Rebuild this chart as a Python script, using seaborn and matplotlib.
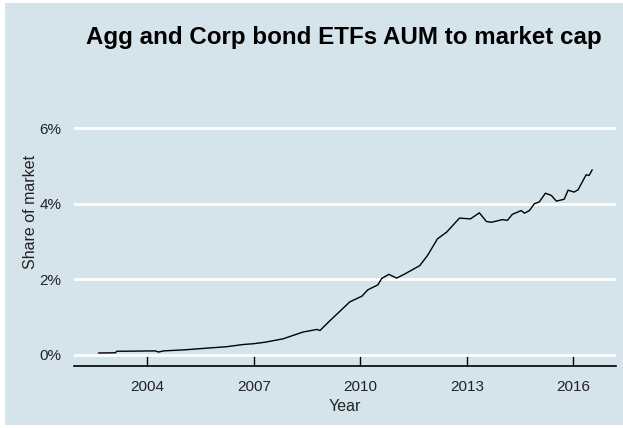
import numpy as np
import pandas as pd
import seaborn as sns
import matplotlib.pyplot as plt
from matplotlib.patches import Rectangle
from matplotlib.ticker import FuncFormatter

# valores leidos a ojo del grafico original
years = [2002.62, 2003.10, 2003.13, 2004.22, 2004.31, 2004.45, 2005.07, 2005.63,
         2006.22, 2006.70, 2006.98, 2007.31, 2007.82, 2008.38, 2008.78, 2008.86,
         2009.14, 2009.42, 2009.70, 2010.04, 2010.21, 2010.49, 2010.60, 2010.80,
         2011.02, 2011.25, 2011.67, 2011.89, 2012.17, 2012.43, 2012.79, 2013.10,
         2013.35, 2013.55, 2013.69, 2014.00, 2014.14, 2014.28, 2014.53, 2014.62,
         2014.76, 2014.90, 2015.04, 2015.21, 2015.38, 2015.52, 2015.74, 2015.85,
         2016.02, 2016.13, 2016.36, 2016.44, 2016.53]
share = [0.045, 0.05, 0.09, 0.10, 0.07, 0.10, 0.13, 0.17,
         0.21, 0.27, 0.29, 0.33, 0.42, 0.60, 0.67, 0.64,
         0.90, 1.15, 1.40, 1.55, 1.72, 1.85, 2.02, 2.13,
         2.03, 2.14, 2.36, 2.63, 3.07, 3.25, 3.62, 3.60,
         3.76, 3.53, 3.51, 3.58, 3.56, 3.72, 3.82, 3.75,
         3.82, 4.00, 4.05, 4.28, 4.22, 4.07, 4.12, 4.36,
         4.31, 4.37, 4.77, 4.75, 4.90]
x_ticks = [2004, 2007, 2010, 2013, 2016]
y_ticks = [0, 2, 4, 6]

df = pd.DataFrame({'Year': years, 'Share': share})

bg = '#d5e4eb'
sns.set_style('white', {'axes.facecolor': bg})
plt.rcParams['font.family'] = ['Liberation Sans', 'DejaVu Sans']

fig = plt.figure(figsize=(6.23, 4.28), dpi=100)
fig.patch.set_facecolor('white')
fig.patches.append(Rectangle((5 / 623, 3 / 428), 1, 422 / 428, transform=fig.transFigure,
                             facecolor=bg, edgecolor='none', zorder=-10))
ax = fig.add_axes([74 / 623, 62 / 428, 542 / 623, 249 / 428])

for y in y_ticks:
    ax.axhline(y, color='white', lw=2, zorder=1)

sns.lineplot(data=df, x='Year', y='Share', color='black', lw=1.0, ax=ax, zorder=3)

ax.set_xlim(2001.93, 2017.2)
ax.set_ylim(-0.3, 6.3)
ax.set_xticks(x_ticks)
ax.set_yticks(y_ticks)
ax.yaxis.set_major_formatter(FuncFormatter(lambda v, p: f'{v:.0f}%'))

for s in ['top', 'right', 'left']:
    ax.spines[s].set_visible(False)
ax.spines['bottom'].set_color('black')
ax.spines['bottom'].set_linewidth(1.2)

ax.tick_params(axis='x', bottom=True, direction='in', length=8, width=1, color='black', pad=10,
               labelsize=11, labelcolor='#222222')
ax.tick_params(axis='y', left=False, length=0, pad=9, labelsize=11, labelcolor='#222222')

ax.set_xlabel('Year', fontsize=11.5, color='#222222', labelpad=4)
ax.set_ylabel('Share of market', fontsize=11.5, color='#222222')
ax.yaxis.set_label_coords(-0.066, 0.618)

fig.text(344 / 623, 1 - 44 / 428, 'Agg and Corp bond ETFs AUM to market cap',
         ha='center', va='baseline', fontsize=17.4, fontweight='bold', color='black')

fig.savefig('out.png', dpi=100, facecolor=fig.get_facecolor())
